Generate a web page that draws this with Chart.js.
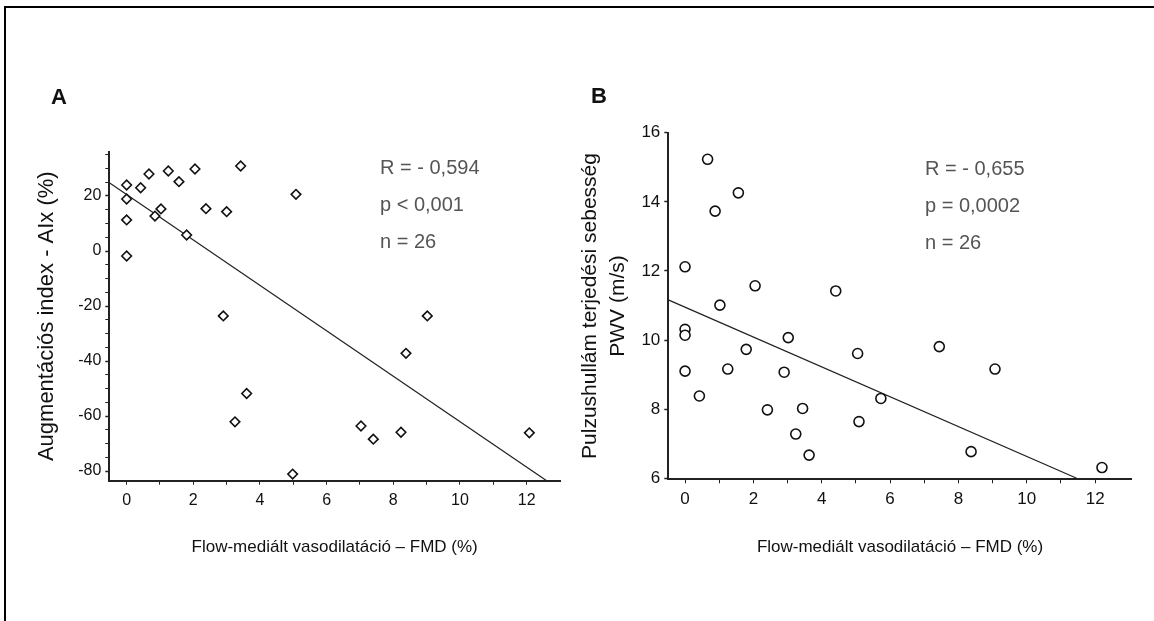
<!DOCTYPE html>
<html>
<head>
<meta charset="utf-8">
<script src="https://cdn.jsdelivr.net/npm/chart.js@4.4.0/dist/chart.umd.min.js"></script>
<style>
  html, body { margin: 0; padding: 0; background: #fff; }
  body { width: 1154px; height: 621px; position: relative; overflow: hidden; font-family: 'Liberation Sans', Arial, sans-serif; }
  .frame { position: absolute; left: 4px; top: 6px; width: 1200px; height: 700px; border-top: 2px solid #000; border-left: 2px solid #000; }
  canvas { position: absolute; top: 0; }
  .letter { position: absolute; font-weight: bold; font-size: 22px; color: #111; }
  .stats { position: absolute; font-size: 20px; color: #555; line-height: 37px; white-space: nowrap; }
</style>
</head>
<body>
<div class="frame"></div>
<canvas id="chartA" width="577" height="621" style="left:0"></canvas>
<canvas id="chartB" width="577" height="621" style="left:577px"></canvas>
<div class="letter" style="left:51px; top:84px">A</div>
<div class="letter" style="left:591px; top:83px">B</div>
<div class="stats" style="left:380px; top:149px">R = - 0,594<br>p &lt; 0,001<br>n = 26</div>
<div class="stats" style="left:925px; top:150px">R = - 0,655<br>p = 0,0002<br>n = 26</div>
<script>
const FONT = "'Liberation Sans', Arial, sans-serif";
const X_TITLE = 'Flow-mediált vasodilatáció – FMD (%)';

// panel A: FMD vs augmentation index
const FMD_A = [0, 0, 0, 0, 0.42, 0.67, 1.25, 1.57, 1.03, 0.85, 2.05, 1.8, 2.38,
  3.0, 3.42, 5.08, 2.9, 3.6, 3.25, 4.98, 9.02, 8.38, 7.03, 7.4, 8.23, 12.08];
const AIX = [24.0, 18.9, 11.3, -1.8, 23.0, 28.0, 29.1, 25.2, 15.3, 12.7, 29.8, 5.8, 15.4,
  14.3, 30.9, 20.6, -23.6, -51.8, -62.1, -81.1, -23.6, -37.2, -63.6, -68.4, -65.9, -66.1];
const FIT_A_X = [-0.52, 12.6];
const FIT_A_Y = [24.8, -83.5];
const A_X_LABELS = [0, 2, 4, 6, 8, 10, 12];
const A_X_TICKS = [0, 1, 2, 3, 4, 5, 6, 7, 8, 9, 10, 11, 12];
const A_Y_LABELS = [-80, -60, -40, -20, 0, 20];

// panel B: FMD vs pulse wave velocity
const FMD_B = [0.66, 1.56, 0.88, 0, 2.05, 1.02, 0, 0, 4.41, 3.02, 1.79, 5.05, 0,
  1.25, 2.9, 0.42, 2.41, 3.44, 3.24, 3.63, 5.09, 5.73, 7.44, 9.07, 8.37, 12.2];
const PWV = [15.23, 14.26, 13.73, 12.12, 11.57, 11.01, 10.31, 10.14, 11.42, 10.07, 9.73, 9.61, 9.10,
  9.16, 9.07, 8.38, 7.98, 8.02, 7.28, 6.67, 7.64, 8.31, 9.81, 9.16, 6.77, 6.31];
const FIT_B_X = [-0.49, 11.46];
const FIT_B_Y = [11.16, 6.0];
const B_X_LABELS = [0, 2, 4, 6, 8, 10, 12];
const B_X_TICKS = [0, 1, 2, 3, 4, 5, 6, 7, 8, 9, 10, 11, 12];
const B_Y_LABELS = [6, 8, 10, 12, 14, 16];

function points(xs, ys) {
  return xs.map((x, i) => ({ x: x, y: ys[i] }));
}

function makeChart(id, o) {
  return new Chart(document.getElementById(id), {
    type: 'scatter',
    data: {
      datasets: [{
        data: points(o.xs, o.ys),
        pointStyle: o.marker,
        pointRadius: o.radius,
        borderColor: '#111',
        backgroundColor: '#fff',
        borderWidth: 1.6,
        order: 1
      }, {
        type: 'line',
        data: points(o.fitX, o.fitY),
        borderColor: '#222',
        borderWidth: 1.3,
        pointRadius: 0,
        fill: false,
        order: 2
      }]
    },
    options: {
      responsive: false,
      animation: false,
      events: [],
      layout: { padding: { left: 0, top: o.top, right: o.right, bottom: 0 } },
      plugins: { legend: { display: false }, tooltip: { enabled: false } },
      scales: {
        x: {
          type: 'linear',
          min: o.xMin,
          max: o.xMax,
          afterBuildTicks: s => { s.ticks = o.xTicks.map(v => ({ value: v })); },
          afterFit: s => { s.height = 621 - o.bottom; },
          ticks: {
            autoSkip: false, maxRotation: 0, padding: 6, color: '#111',
            font: { family: FONT, size: o.tickSize },
            callback: v => o.xLabels.includes(v) ? String(v) : ''
          },
          grid: { drawOnChartArea: false, tickLength: 4, tickColor: '#222', tickWidth: 1 },
          border: { color: '#222', width: 2 },
          title: {
            display: true, text: X_TITLE, color: '#111',
            font: { family: FONT, size: 17 },
            padding: { top: 0, bottom: 63 }
          }
        },
        y: {
          type: 'linear',
          min: o.yMin,
          max: o.yMax,
          afterBuildTicks: s => { s.ticks = o.yTicks.map(v => ({ value: v })); },
          afterFit: s => { s.width = o.left; },
          ticks: {
            autoSkip: false, padding: 4, color: '#111',
            font: { family: FONT, size: o.tickSize },
            callback: v => o.yLabels.includes(v) ? String(v) : ''
          },
          grid: {
            drawOnChartArea: false, tickLength: 4, tickColor: '#222',
            tickWidth: c => o.yLabels.includes(c.tick.value) ? 1.5 : 1
          },
          border: { color: '#222', width: 2 },
          title: {
            display: true, text: o.yTitle, color: '#111',
            font: { family: FONT, size: o.yTitleSize, lineHeight: o.yTitleLH },
            padding: { top: o.yTitlePad, bottom: 0 }
          }
        }
      }
    }
  });
}

// minor ticks on the A y axis every 5 units
const A_Y_TICKS = [];
for (let v = -80; v <= 35; v += 5) A_Y_TICKS.push(v);

makeChart('chartA', {
  xs: FMD_A, ys: AIX, fitX: FIT_A_X, fitY: FIT_A_Y,
  marker: 'rectRot', radius: 4.8,
  xMin: -0.52, xMax: 13.0, yMin: -83.5, yMax: 36.1,
  xTicks: A_X_TICKS, xLabels: A_X_LABELS, yTicks: A_Y_TICKS, yLabels: A_Y_LABELS,
  left: 109.3, top: 151.7, right: 577 - 560, bottom: 480.7,
  tickSize: 16,
  yTitle: 'Augmentációs index - AIx (%)', yTitleSize: 22, yTitleLH: 1.2, yTitlePad: 34
});

makeChart('chartB', {
  xs: FMD_B, ys: PWV, fitX: FIT_B_X, fitY: FIT_B_Y,
  marker: 'circle', radius: 5,
  xMin: -0.49, xMax: 13.07, yMin: 5.97, yMax: 16.0,
  xTicks: B_X_TICKS, xLabels: B_X_LABELS, yTicks: B_Y_LABELS, yLabels: B_Y_LABELS,
  left: 668.3 - 577, top: 132.7, right: 577 - (1131.7 - 577), bottom: 479.3,
  tickSize: 17,
  yTitle: ['Pulzushullám terjedési sebesség', 'PWV (m/s)'], yTitleSize: 21, yTitleLH: 1.3, yTitlePad: 0
});
</script>
</body>
</html>
